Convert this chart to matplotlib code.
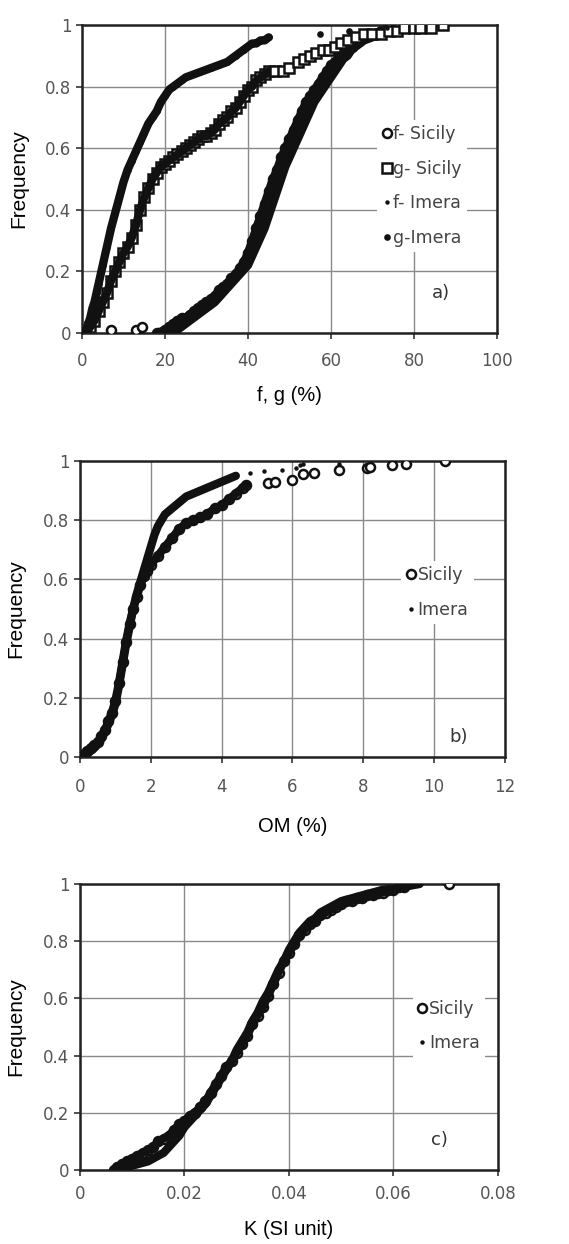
import matplotlib.pyplot as plt

INK = '#111111'
TICK_GRAY = '#555555'

# --- a) f, g (%) cumulative frequencies ---
f_sicily_x = [18, 20, 21, 22, 23, 24, 25, 26, 27, 28, 29, 30, 31, 32, 33, 34, 35, 36, 37, 38, 39,
              40, 41, 42, 43, 44, 45, 46, 47, 48, 49, 50, 51, 52, 53, 54, 55, 56, 57, 58, 59,
              60, 61, 62, 63, 64, 65, 66, 68, 70, 72]
f_sicily_y = [0.0, 0.01, 0.02, 0.03, 0.04, 0.05, 0.05, 0.06, 0.07, 0.08, 0.09, 0.10, 0.11, 0.12, 0.14,
              0.15, 0.16, 0.18, 0.19, 0.21, 0.23, 0.26, 0.30, 0.34, 0.38, 0.42, 0.46, 0.50, 0.53,
              0.57, 0.60, 0.63, 0.66, 0.69, 0.72, 0.75, 0.77, 0.79, 0.81, 0.83, 0.85, 0.87, 0.88,
              0.90, 0.91, 0.92, 0.93, 0.94, 0.96, 0.97, 0.98]
f_sicily_tail_x = [7, 13, 14.5, 74, 76]
f_sicily_tail_y = [0.01, 0.01, 0.02, 0.99, 0.99]

g_sicily_x = [1, 2, 3, 4, 5, 6, 7, 8, 9, 10, 11, 12, 13, 14, 15, 16, 17, 18, 19, 20, 21, 22, 23,
              24, 25, 26, 27, 28, 29, 30, 31, 32, 33, 34, 35, 36, 37, 38, 39, 40, 41, 42, 43, 44, 45]
g_sicily_y = [0.0, 0.02, 0.04, 0.07, 0.10, 0.13, 0.17, 0.20, 0.23, 0.26, 0.28, 0.31, 0.35, 0.40,
              0.44, 0.47, 0.50, 0.52, 0.54, 0.55, 0.56, 0.57, 0.58, 0.59, 0.60, 0.61, 0.62, 0.63,
              0.64, 0.64, 0.65, 0.66, 0.68, 0.69, 0.70, 0.72, 0.73, 0.75, 0.77, 0.79, 0.80, 0.82,
              0.83, 0.84, 0.85]
g_sicily_tail_x = [46.5, 48.5, 50, 52, 53.5, 55, 56.5, 58, 59.5, 61, 62.5, 64, 66, 68, 70, 72,
                   74, 76, 77.5, 80, 81.5, 84, 87]
g_sicily_tail_y = [0.85, 0.85, 0.86, 0.88, 0.89, 0.90, 0.91, 0.92, 0.92, 0.93, 0.94, 0.95, 0.96,
                   0.97, 0.97, 0.97, 0.98, 0.98, 0.99, 0.99, 0.99, 0.99, 1.0]

f_imera_x = [22, 24, 26, 28, 30, 32, 34, 36, 38, 40, 41, 42, 43, 44, 45, 46, 47, 48, 49, 50, 51,
             52, 53, 54, 55, 56, 57, 58, 59, 60, 61, 62, 63, 64, 65, 66, 67, 68, 70, 72]
f_imera_y = [0.0, 0.02, 0.04, 0.06, 0.08, 0.10, 0.13, 0.16, 0.19, 0.22, 0.25, 0.28, 0.31, 0.34,
             0.38, 0.42, 0.46, 0.50, 0.54, 0.57, 0.60, 0.63, 0.66, 0.69, 0.72, 0.75, 0.77, 0.79,
             0.81, 0.83, 0.85, 0.87, 0.89, 0.90, 0.92, 0.93, 0.94, 0.95, 0.96, 0.97]
f_imera_tail_x = [73.5]
f_imera_tail_y = [0.99]

g_imera_x = [0.5, 1, 1.5, 2, 2.5, 3, 3.5, 4, 5, 6, 7, 8, 9, 10, 11, 12, 13, 14, 15, 16, 17, 18,
             19, 20, 21, 22, 23, 24, 25, 27, 29, 31, 33, 35, 37, 39, 41, 42, 43, 44, 45]
g_imera_y = [0.0, 0.01, 0.03, 0.05, 0.08, 0.10, 0.13, 0.16, 0.22, 0.28, 0.34, 0.39, 0.44, 0.49,
             0.53, 0.56, 0.59, 0.62, 0.65, 0.68, 0.70, 0.72, 0.75, 0.77, 0.79, 0.80, 0.81, 0.82,
             0.83, 0.84, 0.85, 0.86, 0.87, 0.88, 0.90, 0.92, 0.94, 0.94, 0.95, 0.95, 0.96]
g_imera_tail_x = [57.3, 64.3]
g_imera_tail_y = [0.97, 0.98]

# --- b) OM (%) ---
om_sicily_x = [0, 0.1, 0.2, 0.3, 0.4, 0.5, 0.6, 0.7, 0.8, 0.9, 1.0, 1.1, 1.2, 1.3, 1.4, 1.5, 1.6,
               1.7, 1.8, 1.9, 2.0, 2.2, 2.4, 2.6, 2.8, 3.0, 3.2, 3.4, 3.6, 3.8, 4.0, 4.2, 4.4, 4.6, 4.7]
om_sicily_y = [0.0, 0.01, 0.02, 0.03, 0.04, 0.05, 0.07, 0.09, 0.12, 0.15, 0.19, 0.25, 0.32, 0.39,
               0.45, 0.50, 0.54, 0.58, 0.61, 0.63, 0.65, 0.68, 0.71, 0.74, 0.77, 0.79, 0.80, 0.81,
               0.82, 0.84, 0.85, 0.87, 0.89, 0.91, 0.92]
om_sicily_tail_x = [5.3, 5.5, 6.0, 6.3, 6.6, 7.3, 8.1, 8.2, 8.8, 9.2, 10.3]
om_sicily_tail_y = [0.925, 0.93, 0.935, 0.955, 0.96, 0.97, 0.975, 0.98, 0.985, 0.99, 1.0]

om_imera_x = [0, 0.2, 0.4, 0.6, 0.8, 0.9, 1.0, 1.1, 1.2, 1.3, 1.4, 1.5, 1.6, 1.7, 1.8, 1.9, 2.0,
              2.1, 2.2, 2.3, 2.4, 2.6, 2.8, 3.0, 3.2, 3.4, 3.6, 3.8, 4.0, 4.2, 4.4]
om_imera_y = [0.0, 0.01, 0.03, 0.06, 0.11, 0.14, 0.18, 0.24, 0.31, 0.38, 0.44, 0.50, 0.55, 0.59,
              0.63, 0.67, 0.71, 0.75, 0.78, 0.80, 0.82, 0.84, 0.86, 0.88, 0.89, 0.90, 0.91, 0.92,
              0.93, 0.94, 0.95]
om_imera_tail_x = [4.8, 5.2, 5.7, 6.1, 6.2, 6.3, 7.3]
om_imera_tail_y = [0.96, 0.965, 0.97, 0.975, 0.985, 0.99, 0.99]

# --- c) K (SI unit) ---
k_sicily_x = [0.0065, 0.007, 0.008, 0.009, 0.010, 0.011, 0.012, 0.013, 0.014, 0.015, 0.016, 0.017,
              0.018, 0.019, 0.020, 0.021, 0.022, 0.023, 0.024, 0.025, 0.026, 0.027, 0.028, 0.029,
              0.030, 0.031, 0.032, 0.033, 0.034, 0.035, 0.036, 0.037, 0.038, 0.039, 0.040, 0.041,
              0.042, 0.043, 0.044, 0.045, 0.046, 0.047, 0.048, 0.049, 0.050, 0.051, 0.052, 0.053,
              0.054, 0.055, 0.056, 0.057, 0.058, 0.059, 0.060, 0.061, 0.062]
k_sicily_y = [0.0, 0.01, 0.02, 0.03, 0.04, 0.05, 0.06, 0.07, 0.08, 0.10, 0.11, 0.12, 0.14, 0.16,
              0.17, 0.19, 0.20, 0.22, 0.24, 0.27, 0.30, 0.33, 0.36, 0.38, 0.41, 0.44, 0.47, 0.51,
              0.54, 0.57, 0.61, 0.65, 0.69, 0.73, 0.76, 0.79, 0.82, 0.84, 0.86, 0.87, 0.89, 0.90,
              0.91, 0.92, 0.93, 0.94, 0.94, 0.95, 0.95, 0.96, 0.96, 0.97, 0.97, 0.98, 0.98, 0.99,
              0.99]
k_sicily_tail_x = [0.0706]
k_sicily_tail_y = [1.0]

k_imera_x = [0.007, 0.009, 0.011, 0.013, 0.014, 0.015, 0.016, 0.017, 0.018, 0.019, 0.020, 0.021,
             0.022, 0.023, 0.024, 0.025, 0.026, 0.027, 0.028, 0.029, 0.030, 0.031, 0.032, 0.033,
             0.034, 0.035, 0.036, 0.037, 0.038, 0.039, 0.040, 0.041, 0.042, 0.043, 0.044, 0.045,
             0.046, 0.048, 0.050, 0.052, 0.054, 0.056, 0.058, 0.060, 0.062, 0.065]
k_imera_y = [0.0, 0.01, 0.02, 0.03, 0.04, 0.05, 0.06, 0.08, 0.10, 0.12, 0.15, 0.17, 0.19, 0.21,
             0.23, 0.26, 0.29, 0.32, 0.35, 0.38, 0.42, 0.45, 0.48, 0.52, 0.55, 0.59, 0.62, 0.66,
             0.70, 0.73, 0.77, 0.80, 0.83, 0.85, 0.87, 0.88, 0.90, 0.92, 0.94, 0.95, 0.96, 0.97,
             0.98, 0.98, 0.99, 1.0]

open_circle = dict(marker='o', ms=6.5, mfc='white', mec=INK, mew=1.8)
open_square = dict(marker='s', ms=6.5, mfc='white', mec=INK, mew=1.8)
small_dot = dict(marker='o', ms=3.2, mfc=INK, mec=INK, mew=0)
big_dot = dict(marker='o', ms=4.8, mfc=INK, mec=INK, mew=0)


def draw_series(ax, x, y, tail_x, tail_y, label, style, lw=6):
    # dense part: markers with a thick band over them, sparse ends as single markers
    ax.plot(x, y, ls='none', zorder=2, **style)
    ax.plot(x, y, '-', color=INK, lw=lw, solid_capstyle='round', zorder=3)
    ax.plot(tail_x, tail_y, ls='none', zorder=4, **style)
    ax.plot([], [], ls='none', label=label, **style)


def style_axes(ax, xmax, xstep, xticklabels, xlabel, label_y, xpad, tag, tag_xy, leg_anchor):
    ax.set_xlim(0, xmax)
    ax.set_ylim(0, 1)
    xt = [i * xstep for i in range(len(xticklabels))]
    ax.set_xticks(xt)
    ax.set_xticklabels(xticklabels)
    ax.set_yticks([0, 0.2, 0.4, 0.6, 0.8, 1])
    ax.set_yticklabels(['0', '0.2', '0.4', '0.6', '0.8', '1'])
    ax.grid(True, color='#8a8a8a', lw=1.0)
    ax.set_axisbelow(True)
    for sp in ax.spines.values():
        sp.set_linewidth(1.8)
        sp.set_color('#222222')
    ax.tick_params(direction='out', length=4, width=1.2, color='#333333',
                   labelsize=12, labelcolor=TICK_GRAY)
    ax.tick_params(axis='x', pad=xpad)
    ax.tick_params(axis='y', pad=3.5)
    for lab in ax.get_xticklabels() + ax.get_yticklabels():
        lab.set_family('DejaVu Sans')
    ax.set_xlabel(xlabel, fontsize=14.5, family='Liberation Sans')
    ax.set_ylabel('Frequency', fontsize=15, family='Liberation Sans')
    ax.xaxis.set_label_coords(0.5, label_y)
    ax.yaxis.set_label_coords(-0.13, 0.5)
    ax.text(tag_xy[0], tag_xy[1], tag, transform=ax.transAxes, fontsize=13,
            color='#333333', ha='center', va='center', family='DejaVu Sans', zorder=6)
    leg = ax.legend(loc='center left', bbox_to_anchor=leg_anchor, frameon=True,
                    facecolor='white', edgecolor='none', framealpha=1, fancybox=False,
                    borderpad=0.3, handlelength=0.5, handletextpad=0.15, labelspacing=0.95,
                    prop={'family': 'DejaVu Sans', 'size': 12.5})
    leg.set_zorder(5)
    for t in leg.get_texts():
        t.set_color('#444444')


fig = plt.figure(figsize=(5.69, 12.44), dpi=100)

ax_a = fig.add_axes([0.1441, 0.7323, 0.7293, 0.2476])
draw_series(ax_a, f_sicily_x, f_sicily_y, f_sicily_tail_x, f_sicily_tail_y, 'f- Sicily', open_circle)
draw_series(ax_a, g_sicily_x, g_sicily_y, g_sicily_tail_x, g_sicily_tail_y, 'g- Sicily', open_square)
draw_series(ax_a, f_imera_x, f_imera_y, f_imera_tail_x, f_imera_tail_y, 'f- Imera', small_dot)
draw_series(ax_a, g_imera_x, g_imera_y, g_imera_tail_x, g_imera_tail_y, 'g-Imera', big_dot)
style_axes(ax_a, 100, 20, ['0', '20', '40', '60', '80', '100'], 'f, g (%)', -0.172, 10,
           'a)', (0.865, 0.13), (0.69, 0.477))

ax_b = fig.add_axes([0.1406, 0.3915, 0.7469, 0.2379])
draw_series(ax_b, om_sicily_x, om_sicily_y, om_sicily_tail_x, om_sicily_tail_y, 'Sicily', open_circle)
draw_series(ax_b, om_imera_x, om_imera_y, om_imera_tail_x, om_imera_tail_y, 'Imera', small_dot)
style_axes(ax_b, 12, 2, ['0', '2', '4', '6', '8', '10', '12'], 'OM (%)', -0.203, 11,
           'b)', (0.89, 0.068), (0.735, 0.556))

ax_c = fig.add_axes([0.1406, 0.0595, 0.7346, 0.2299])
draw_series(ax_c, k_sicily_x, k_sicily_y, k_sicily_tail_x, k_sicily_tail_y, 'Sicily', open_circle)
draw_series(ax_c, k_imera_x, k_imera_y, [], [], 'Imera', small_dot)
style_axes(ax_c, 0.08, 0.02, ['0', '0.02', '0.04', '0.06', '0.08'], 'K (SI unit)', -0.175, 7,
           'c)', (0.86, 0.105), (0.775, 0.503))

fig.savefig('out.png', dpi=100, facecolor='white')
